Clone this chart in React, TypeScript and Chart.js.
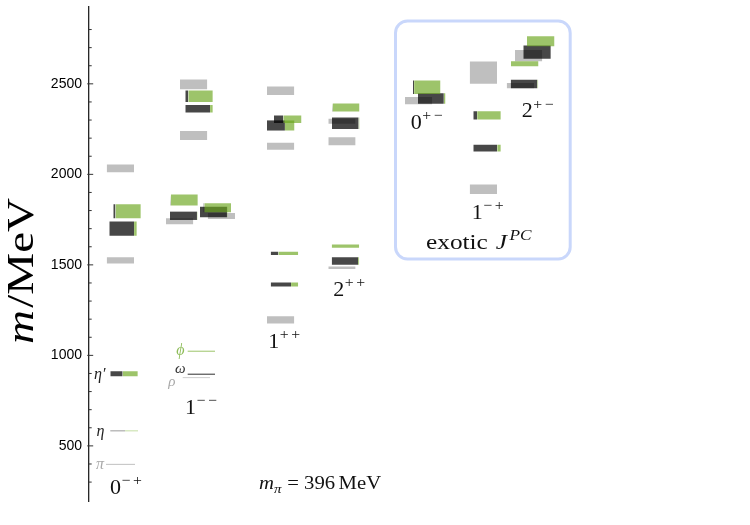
import React, { useEffect, useRef } from 'react';
import { Chart, registerables } from 'chart.js';
Chart.register(...registerables);

// ---------- data (masses in MeV) ----------
// isovector states (grey boxes)
const greyMass = [2033, 1525, 2497, 2215, 1741, 1770, 2462, 2155, 1196, 2293, 2183, 1484, 2407, 2562, 1918, 2656, 2490];
const greyErr = [21, 17, 27, 25, 17, 17, 23, 19, 20, 14, 22, 7, 20, 62, 26, 31, 14];
const greyLeft = [17.7, 17.7, 91, 91, 77, 118.7, 178, 178, 178, 239.3, 239.3, 239.3, 316, 380.7, 380.7, 426, 417.7];

// isoscalar states (black = light, green = strange fraction)
const isoMass = [1796, 1700, 898, 2431, 2362, 1858, 1771, 1792, 1816, 2304, 2270, 1564, 1391, 2369, 2282, 1603, 1521, 2481, 2419, 2326, 2145, 2735, 2675, 2611, 2499];
const isoErr = [39, 39, 14, 32, 21, 30, 23, 29, 25, 21, 28, 9, 11, 22, 32, 9, 21, 37, 29, 23, 19, 28, 37, 14, 23];
const isoLight = [0.08, 0.9, 0.45, 0.11, 0.9, 0.02, 0.98, 0.98, 0.03, 0.34, 0.65, 0.28, 0.74, 0.02, 0.97, 0.0, 0.96, 0.04, 0.94, 0.14, 0.87, 0.0, 1.0, 0.0, 0.97];
const isoLeft = [24.3, 20.3, 21.3, 96.3, 96.3, 81.3, 81, 111, 114.5, 185, 178, 181.7, 181.7, 243, 243, 242.7, 242.7, 324, 329, 384.3, 384.3, 438, 434.3, 422, 421.7];

// light ground states drawn as thin lines
const lineNames = ['pi', 'eta-l', 'eta-s', 'phi', 'omega', 'rho'];
const lineMass = [398, 583, 583, 1023, 896, 877];
const lineStart = [17, 21.3, 36, 98.7, 98.7, 93.7];
const lineEnd = [46, 36, 49, 126, 126, 121];
const lineColor = ['#c0c0c0', '#9a9a9a', '#c4dda4', '#9cc46a', '#2e2e2e', '#cdcdcd'];

// axis ticks
const yMajorTicks = [500, 1000, 1500, 2000, 2500];
const yMinorTicks = [300, 400, 500, 600, 700, 800, 900, 1000, 1100, 1200, 1300, 1400, 1500, 1600, 1700, 1800, 1900, 2000, 2100, 2200, 2300, 2400, 2500, 2600, 2700, 2800];

// J^PC labels: [base, sup, x, baseline mass]
const jpcText = ['0', '1', '1', '2', '0', '1', '2'];
const jpcSup = ['−+', '−−', '++', '++', '+−', '−+', '+−'];
const jpcX = [21, 96, 179.3, 244.3, 321.7, 382.7, 432.7];
const jpcY = [236, 678, 1039, 1330, 2251, 1754, 2315];

const GW = 27.3;
const IW = 27.5;
const GREY = 'rgba(0,0,0,0.25)';
const DARK = 'rgba(0,0,0,0.72)';
const GREEN = 'rgba(105,165,26,0.65)';

function boxDataset(x0: number, x1: number, lo: number, hi: number, color: string, order: number) {
  return {
    type: 'line' as const,
    data: [{ x: x0, y: hi }, { x: x1, y: hi }],
    fill: { value: lo },
    backgroundColor: color,
    borderColor: 'rgba(0,0,0,0)',
    borderWidth: 0,
    pointRadius: 0,
    order,
  };
}

function buildDatasets() {
  const ds: any[] = [];
  greyMass.forEach((m, i) => {
    ds.push(boxDataset(greyLeft[i], greyLeft[i] + GW, m - greyErr[i], m + greyErr[i], GREY, 3));
  });
  isoMass.forEach((m, i) => {
    const L = isoLeft[i];
    const split = L + IW * isoLight[i];
    if (isoLight[i] > 0.005) ds.push(boxDataset(L, split, m - isoErr[i], m + isoErr[i], DARK, 2));
    if (isoLight[i] < 0.995) ds.push(boxDataset(split, L + IW, m - isoErr[i], m + isoErr[i], GREEN, 1));
  });
  lineMass.forEach((m, i) => {
    ds.push({
      type: 'line' as const,
      label: lineNames[i],
      data: [{ x: lineStart[i], y: m }, { x: lineEnd[i], y: m }],
      borderColor: lineColor[i],
      borderWidth: 1,
      pointRadius: 0,
      fill: false,
      order: 0,
    });
  });
  return ds;
}

const SERIF = '"Liberation Serif", "DejaVu Serif", serif';
const HS = 1.15; // horizontal stretch to mimic wider TeX glyphs

function drawSup(ctx: CanvasRenderingContext2D, x: number, y: number, base: string, sup: string, size: number) {
  ctx.save();
  ctx.translate(x, y);
  ctx.scale(1.05, 1);
  ctx.font = `${size}px ${SERIF}`;
  ctx.textAlign = 'left';
  ctx.textBaseline = 'alphabetic';
  ctx.fillText(base, 0, 0);
  let cx = ctx.measureText(base).width + 0.5;
  ctx.font = `${Math.round(size * 0.7)}px ${SERIF}`;
  for (const ch of sup) {
    ctx.fillText(ch, cx, -size * 0.42);
    cx += ctx.measureText(ch).width + 2.5;
  }
  ctx.restore();
}

const decorPlugin = {
  id: 'decor',
  beforeDatasetsDraw(chart: any) {
    const { ctx } = chart;
    const xs = chart.scales.x;
    const ys = chart.scales.y;
    const x0 = xs.getPixelForValue(306.5);
    const x1 = xs.getPixelForValue(481.2);
    const y0 = ys.getPixelForValue(2847);
    const y1 = ys.getPixelForValue(1532);
    ctx.save();
    ctx.strokeStyle = '#c9d7fb';
    ctx.lineWidth = 3;
    ctx.beginPath();
    ctx.roundRect(x0, y0, x1 - x0, y1 - y0, 12);
    ctx.stroke();
    ctx.restore();
  },
  afterDraw(chart: any) {
    const { ctx, chartArea } = chart;
    const xs = chart.scales.x;
    const ys = chart.scales.y;
    ctx.save();
    // axis line and inward ticks
    const ax = chartArea.left - 0.3;
    ctx.strokeStyle = '#111';
    ctx.lineWidth = 1.2;
    ctx.beginPath();
    ctx.moveTo(ax, chartArea.top);
    ctx.lineTo(ax, chartArea.bottom);
    ctx.stroke();
    ctx.lineWidth = 1;
    ctx.strokeStyle = '#333';
    yMinorTicks.forEach((v) => {
      const py = ys.getPixelForValue(v);
      const major = yMajorTicks.includes(v);
      ctx.beginPath();
      ctx.moveTo(ax - (major ? 1.5 : 0), py);
      ctx.lineTo(ax + (major ? 4.5 : 3), py);
      ctx.stroke();
    });

    // J^PC labels
    ctx.fillStyle = '#111';
    jpcText.forEach((t, i) => {
      drawSup(ctx, xs.getPixelForValue(jpcX[i]), ys.getPixelForValue(jpcY[i]), t, jpcSup[i], 21);
    });

    // exotic J^PC
    {
      ctx.save();
      ctx.translate(xs.getPixelForValue(337), ys.getPixelForValue(1585));
      ctx.scale(HS, 1);
      ctx.textAlign = 'left';
      ctx.textBaseline = 'alphabetic';
      ctx.font = `22px ${SERIF}`;
      ctx.fillText('exotic ', 0, 0);
      let cx = ctx.measureText('exotic ').width + 1.5;
      ctx.font = `italic 22px ${SERIF}`;
      ctx.fillText('J', cx, 0);
      cx += ctx.measureText('J').width + 2;
      ctx.font = `italic 15px ${SERIF}`;
      ctx.fillText('PC', cx, -9);
      ctx.restore();
    }

    // m_pi = 396 MeV
    {
      ctx.save();
      ctx.translate(xs.getPixelForValue(170), ys.getPixelForValue(264));
      ctx.scale(HS, 1);
      ctx.textAlign = 'left';
      ctx.textBaseline = 'alphabetic';
      ctx.font = `italic 18px ${SERIF}`;
      ctx.fillText('m', 0, 0);
      let cx = ctx.measureText('m').width;
      ctx.font = `italic 13px ${SERIF}`;
      ctx.fillText('π', cx, 4);
      cx += ctx.measureText('π').width + 5;
      ctx.font = `18px ${SERIF}`;
      ctx.fillText('= 396', cx, 0);
      cx += ctx.measureText('= 396').width + 3;
      ctx.fillText('MeV', cx, 0);
      ctx.restore();
    }

    // small state labels
    ctx.textAlign = 'right';
    ctx.textBaseline = 'middle';
    ctx.font = `italic 16px ${SERIF}`;
    ctx.fillStyle = '#222';
    ctx.fillText('η′', xs.getPixelForValue(16.5), ys.getPixelForValue(898) + 1);
    ctx.fillText('η', xs.getPixelForValue(15.5), ys.getPixelForValue(583) + 1);
    ctx.fillStyle = '#aaa';
    ctx.fillText('π', xs.getPixelForValue(15), ys.getPixelForValue(398));
    ctx.fillStyle = '#8fbd5a';
    ctx.fillText('ϕ', xs.getPixelForValue(95.5), ys.getPixelForValue(1023));
    ctx.fillStyle = '#333';
    ctx.font = `italic 15px ${SERIF}`;
    ctx.fillText('ω', xs.getPixelForValue(96.5), ys.getPixelForValue(925));
    ctx.fillStyle = '#aaa';
    ctx.fillText('ρ', xs.getPixelForValue(86.5), ys.getPixelForValue(855));

    // y axis title
    ctx.translate(23, 271);
    ctx.rotate(-Math.PI / 2);
    ctx.scale(1.12, 0.9);
    ctx.fillStyle = '#000';
    ctx.textBaseline = 'middle';
    ctx.textAlign = 'left';
    ctx.font = `italic 42px ${SERIF}`;
    const mw = ctx.measureText('m').width;
    ctx.font = `42px ${SERIF}`;
    const rw = ctx.measureText('/MeV').width;
    const start = -(mw + rw + 2) / 2;
    ctx.font = `italic 42px ${SERIF}`;
    ctx.fillText('m', start, 0);
    ctx.font = `42px ${SERIF}`;
    ctx.fillText('/MeV', start + mw + 2, 0);
    ctx.restore();
  },
};

export default function App() {
  const ref = useRef<HTMLCanvasElement | null>(null);
  useEffect(() => {
    if (!ref.current) return;
    const chart = new Chart(ref.current, {
      type: 'line',
      data: { datasets: buildDatasets() },
      options: {
        animation: false,
        responsive: false,
        devicePixelRatio: 1,
        layout: { padding: { top: 6, bottom: 23, left: 0, right: 0 } },
        plugins: {
          legend: { display: false },
          tooltip: { enabled: false },
          title: { display: false },
        },
        scales: {
          x: { type: 'linear', min: 0, max: 661, display: false },
          y: {
            type: 'linear',
            min: 190,
            max: 2930,
            position: 'left',
            afterFit: (s: any) => {
              s.width = 89;
              s.paddingTop = 0;
              s.paddingBottom = 0;
            },
            afterBuildTicks: (s: any) => {
              s.ticks = yMajorTicks.map((v) => ({ value: v }));
            },
            grid: { display: false, drawTicks: false },
            border: { display: false },
            ticks: {
              padding: 7,
              color: '#000',
              font: { family: '"Liberation Sans", Arial, sans-serif', size: 14 },
              callback: (v: any) => String(v),
            },
          },
        },
      } as any,
      plugins: [decorPlugin],
    });
    return () => chart.destroy();
  }, []);
  return (
    <div style={{ position: 'absolute', left: 0, top: 0, width: 750, height: 525, background: '#fff' }}>
      <canvas ref={ref} width={750} height={525} style={{ display: 'block' }} />
    </div>
  );
}
